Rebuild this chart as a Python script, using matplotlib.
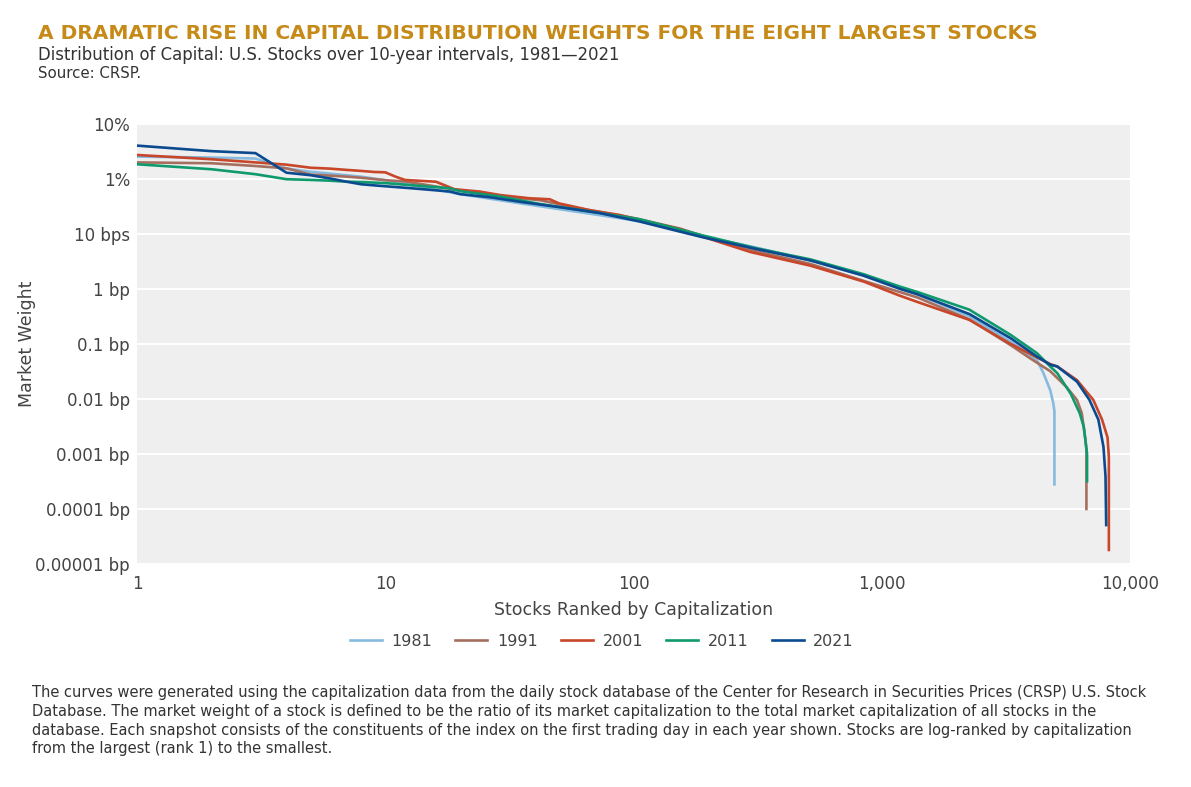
import matplotlib.pyplot as plt
from matplotlib.ticker import FixedLocator, NullLocator

# Series: rank -> market weight (fraction)
ranks_1981 = [1, 2, 3, 4, 5, 6, 8, 10, 20, 35, 73, 106, 154, 190, 314, 515, 845,
              1390, 2250, 3300, 4210, 4470, 4760, 4900, 4950, 4950]
weights_1981 = [2.55e-2, 2.45e-2, 2.35e-2, 1.55e-2, 1.35e-2, 1.25e-2, 1.1e-2, 9.5e-3,
                5.3e-3, 3.6e-3, 2.2e-3, 1.7e-3, 1.15e-3, 9.0e-4, 5.6e-4, 3.3e-4, 1.75e-4,
                8.0e-5, 3.2e-5, 1.1e-5, 5.1e-6, 2.95e-6, 1.45e-6, 8.3e-7, 6.0e-7, 2.8e-8]

ranks_1991 = [1, 2, 3, 4, 5, 6, 7, 8, 10, 12, 20, 30, 42, 61, 100, 154, 190, 314,
              515, 845, 1390, 2250, 3300, 3950, 4760, 5530, 6100, 6380, 6600, 6660, 6660]
weights_1991 = [2.0e-2, 1.93e-2, 1.72e-2, 1.56e-2, 1.2e-2, 1.15e-2, 1.1e-2, 1.05e-2,
                9.5e-3, 9.0e-3, 6.2e-3, 4.8e-3, 4.1e-3, 2.9e-3, 1.95e-3, 1.25e-3, 9.2e-4,
                4.8e-4, 2.85e-4, 1.4e-4, 7.0e-5, 2.8e-5, 9.5e-6, 5.5e-6, 3.2e-6, 1.66e-6,
                9.6e-7, 5.5e-7, 1.8e-7, 1.2e-7, 1.0e-8]

ranks_2001 = [1, 2, 3, 4, 5, 6, 7, 8, 9, 10, 11, 12, 16, 19, 24, 29, 38, 46, 50, 66,
              88, 106, 154, 190, 295, 515, 845, 1184, 1390, 2250, 3300, 4210, 4760,
              5080, 6100, 7100, 7700, 8100, 8200, 8200]
weights_2001 = [2.73e-2, 2.28e-2, 2.0e-2, 1.82e-2, 1.6e-2, 1.54e-2, 1.46e-2, 1.4e-2,
                1.34e-2, 1.32e-2, 1.1e-2, 9.6e-3, 8.9e-3, 6.5e-3, 5.9e-3, 5.1e-3, 4.46e-3,
                4.27e-3, 3.6e-3, 2.73e-3, 2.21e-3, 1.8e-3, 1.22e-3, 8.9e-4, 4.7e-4,
                2.65e-4, 1.36e-4, 7.5e-5, 5.8e-5, 2.74e-5, 1.0e-5, 5.7e-6, 4.3e-6, 3.9e-6,
                2.2e-6, 9.6e-7, 4.2e-7, 2.0e-7, 8.9e-8, 1.8e-9]

ranks_2011 = [1, 2, 3, 4, 5, 6, 7, 8, 10, 18, 20, 29, 42, 61, 106, 154, 190, 314, 515,
              845, 1184, 1390, 2250, 3300, 4210, 4760, 5080, 5760, 6260, 6500, 6700, 6700]
weights_2011 = [1.85e-2, 1.5e-2, 1.22e-2, 9.9e-3, 9.6e-3, 9.3e-3, 8.9e-3, 8.8e-3,
                8.4e-3, 6.8e-3, 6.0e-3, 4.8e-3, 3.5e-3, 2.73e-3, 1.85e-3, 1.2e-3, 9.4e-4,
                5.45e-4, 3.45e-4, 1.85e-4, 1.1e-4, 8.8e-5, 4.2e-5, 1.46e-5, 6.8e-6,
                3.9e-6, 2.95e-6, 1.24e-6, 5.5e-7, 3.1e-7, 1.0e-7, 3.2e-8]

ranks_2021 = [1, 2, 3, 4, 5, 6, 7, 8, 9.5, 12.6, 18.3, 20, 26.4, 34.8, 50.6, 73, 106,
              154, 190, 314, 515, 845, 1184, 1390, 2250, 3300, 4210, 4760, 5080, 6100,
              6850, 7440, 7800, 7950, 8000]
weights_2021 = [4.04e-2, 3.2e-2, 2.95e-2, 1.3e-2, 1.17e-2, 1.02e-2, 8.9e-3, 8.0e-3,
                7.5e-3, 6.8e-3, 5.9e-3, 5.3e-3, 4.65e-3, 3.85e-3, 3.06e-3, 2.4e-3, 1.68e-3,
                1.1e-3, 8.7e-4, 5.3e-4, 3.3e-4, 1.74e-4, 1.0e-4, 8.0e-5, 3.5e-5, 1.27e-5,
                5.9e-6, 4.2e-6, 3.9e-6, 2.07e-6, 9.6e-7, 4.2e-7, 1.35e-7, 3.9e-8, 5.1e-9]

years = ['1981', '1991', '2001', '2011', '2021']
colors = ['#86badf', '#a56f5f', '#c8462a', '#0f9a6e', '#0b4a8f']

y_ticks = [1e-1, 1e-2, 1e-3, 1e-4, 1e-5, 1e-6, 1e-7, 1e-8, 1e-9]
y_labels = ['10%', '1%', '10 bps', '1 bp', '0.1 bp', '0.01 bp', '0.001 bp',
            '0.0001 bp', '0.00001 bp']
x_ticks = [1, 10, 100, 1000, 10000]
x_labels = ['1', '10', '100', '1,000', '10,000']

footnote = ("The curves were generated using the capitalization data from the daily stock database of the "
            "Center for Research in Securities Prices (CRSP) U.S. Stock\n"
            "Database. The market weight of a stock is defined to be the ratio of its market capitalization "
            "to the total market capitalization of all stocks in the\n"
            "database. Each snapshot consists of the constituents of the index on the first trading day in "
            "each year shown. Stocks are log-ranked by capitalization\n"
            "from the largest (rank 1) to the smallest.")

plt.rcParams['font.family'] = ['DejaVu Sans']
text_color = '#444444'

fig = plt.figure(figsize=(11.91, 7.87), dpi=100)
ax = fig.add_axes([0.115, 0.2834, 0.834, 0.5591])
ax.set_facecolor('#efefef')

series = [(ranks_1981, weights_1981), (ranks_1991, weights_1991), (ranks_2001, weights_2001),
          (ranks_2011, weights_2011), (ranks_2021, weights_2021)]
for (r, w), year, c in zip(series, years, colors):
    ax.plot(r, w, color=c, lw=1.9, label=year, solid_joinstyle='miter')

ax.set_xscale('log')
ax.set_yscale('log')
ax.set_xlim(1, 10000)
ax.set_ylim(1e-9, 1e-1)

ax.yaxis.set_major_locator(FixedLocator(y_ticks))
ax.yaxis.set_minor_locator(NullLocator())
ax.set_yticklabels(y_labels)
ax.xaxis.set_major_locator(FixedLocator(x_ticks))
ax.xaxis.set_minor_locator(NullLocator())
ax.set_xticklabels(x_labels)

ax.grid(axis='y', color='white', lw=1.5)
ax.set_axisbelow(True)
for s in ax.spines.values():
    s.set_visible(False)
ax.tick_params(axis='y', length=0, labelsize=12, labelcolor=text_color, pad=5)
ax.tick_params(axis='x', length=0, labelsize=12, labelcolor=text_color, pad=8)

ax.set_xlabel('Stocks Ranked by Capitalization', fontsize=12.5, color=text_color, labelpad=6)
ax.set_ylabel('Market Weight', fontsize=12.5, color=text_color)
ax.yaxis.set_label_coords(-0.102, 0.5)

leg = ax.legend(loc='center', bbox_to_anchor=(0.468, -0.176), ncol=5, frameon=False,
                fontsize=11.5, handlelength=2.0, columnspacing=1.45, handletextpad=0.6)
for t in leg.get_texts():
    t.set_color(text_color)

fig.text(0.032, 0.957, 'A DRAMATIC RISE IN CAPITAL DISTRIBUTION WEIGHTS FOR THE EIGHT LARGEST STOCKS',
         fontsize=14.5, fontweight='bold', color='#c58a17', va='center', ha='left')
fig.text(0.032, 0.930, 'Distribution of Capital: U.S. Stocks over 10-year intervals, 1981\u20142021',
         fontsize=11.9, color='#333333', va='center', ha='left')
fig.text(0.032, 0.907, 'Source: CRSP.', fontsize=10.8, color='#333333', va='center', ha='left')

fig.text(0.027, 0.129, footnote, fontsize=10.5, color='#333333', va='top', ha='left',
         linespacing=1.3)

fig.savefig('out.png', dpi=100)
